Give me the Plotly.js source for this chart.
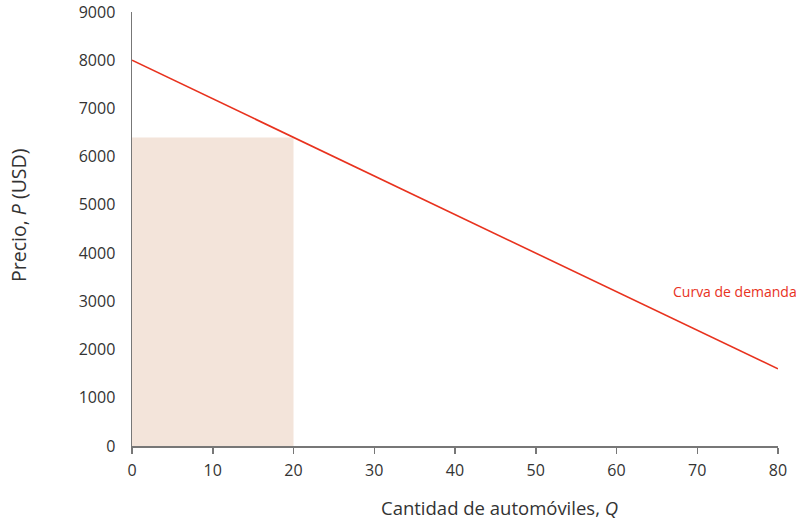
<!DOCTYPE html>
<html><head><meta charset="utf-8">
<script src="https://cdn.plot.ly/plotly-3.0.1.min.js"></script>
<style>body{margin:0;background:#fff}#chart{width:810px;height:521px}</style>
</head><body><div id="chart"></div>
<script>
const demandQ = [0, 80];
const demandP = [8000, 1600];
const rectQ = [0, 0, 20, 20, 0];
const rectP = [0, 6400, 6400, 0, 0];
const xTicks = [0, 10, 20, 30, 40, 50, 60, 70, 80];
const yTicks = [0, 1000, 2000, 3000, 4000, 5000, 6000, 7000, 8000, 9000];

const font = 'Open Sans, Noto Sans, sans-serif';
const traces = [
  {x: rectQ, y: rectP, type: 'scatter', mode: 'none', fill: 'toself', fillcolor: '#f3e4da', hoverinfo: 'skip', showlegend: false},
  {x: demandQ, y: demandP, type: 'scatter', mode: 'lines', line: {color: '#e8321e', width: 1.6}, showlegend: false, cliponaxis: false}
];
const L = 132, R = 32, T = 12, B = 75, W = 810, H = 521;
const pw = W - L - R, ph = H - T - B;
const px = v => (v - L) / pw;
const py = v => (H - B - v) / ph;
const layout = {
  width: W, height: H,
  margin: {l: L, r: R, t: T, b: B},
  paper_bgcolor: '#fff', plot_bgcolor: '#fff',
  font: {family: font, color: '#333', size: 16},
  xaxis: {range: [0, 80], tickvals: xTicks, ticks: 'outside', ticklen: 6, tickcolor: '#777', tickwidth: 1.5,
    showline: true, linecolor: '#777', linewidth: 1.5, showgrid: false, zeroline: false,
    tickfont: {size: 16, color: '#333'}, ticklabelstandoff: 3},
  yaxis: {range: [0, 9000], tickvals: yTicks, ticks: '', showline: true, linecolor: '#777', linewidth: 1.5,
    showgrid: false, zeroline: false, tickfont: {size: 16, color: '#333'}, ticklabelstandoff: 12},
  annotations: [
    {text: 'Curva de demanda', x: px(799), y: py(291), xref: 'paper', yref: 'paper', xanchor: 'right', yanchor: 'middle', showarrow: false,
      font: {family: font, size: 14, color: '#e8321e'}},
    {text: 'Cantidad de automóviles, <i>Q</i>', x: px(499), y: py(507), xref: 'paper', yref: 'paper', xanchor: 'center', yanchor: 'middle', showarrow: false,
      font: {family: font, size: 18.5, color: '#333'}},
    {text: 'Precio, <i>P</i> (USD)', x: px(18), y: py(215), xref: 'paper', yref: 'paper', xanchor: 'center', yanchor: 'middle', showarrow: false, textangle: -90,
      font: {family: font, size: 19.5, color: '#333'}}
  ]
};
Plotly.newPlot('chart', traces, layout, {displayModeBar: false, staticPlot: true});
</script></body></html>
